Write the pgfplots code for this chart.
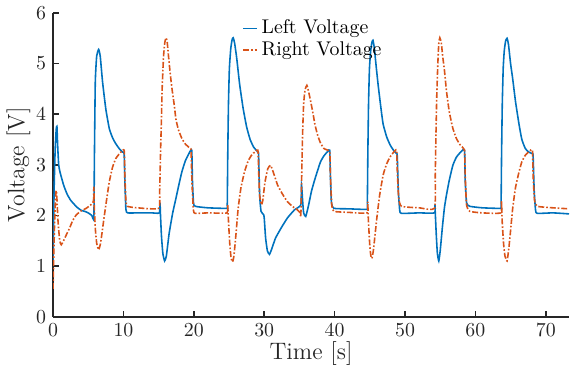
\documentclass[border=0pt]{standalone}
\usepackage{pgfplots}
\pgfplotsset{compat=1.18}
\definecolor{mblue}{rgb}{0,0.447,0.741}
\definecolor{mred}{rgb}{0.85,0.325,0.098}
\definecolor{axgray}{rgb}{0.15,0.15,0.15}
\begin{document}
\begin{tikzpicture}
\begin{axis}[
  scale only axis,
  width=260pt, height=153pt,
  xmin=0, xmax=73.3, ymin=0, ymax=6,
  axis x line=bottom, axis y line=left,
  axis line style={-, line width=1pt, color=axgray},
  tick style={line width=0.8pt, color=axgray},
  tick align=inside,
  major tick length=3pt,
  xtick={0,10,...,70}, ytick={0,1,...,6},
  ticklabel style={font=\fontsize{10}{11}\selectfont, color=axgray},
  xlabel={Time [s]}, ylabel={Voltage [V]},
  label style={font=\fontsize{12}{13}\selectfont, color=axgray},
  xlabel style={yshift=4pt},
  ylabel style={yshift=-4pt},
  legend style={at={(0.362,0.998)}, anchor=north west, draw=none, fill=none,
    font=\fontsize{10}{11}\selectfont, row sep=-1.5pt, inner sep=1pt},
  legend cell align=left,
  legend image code/.code={\draw[#1] (0pt,0pt) -- (7pt,0pt);},
]
\addplot[mblue, line width=0.8pt, smooth, tension=0.3] coordinates {
(0,1.0) (0.15,2.5) (0.3,3.3) (0.45,3.7) (0.55,3.76) (0.65,3.4) (0.8,3.0) (1.0,2.85) (1.5,2.6) (2.0,2.42) (2.5,2.3) (3.0,2.22) (3.5,2.15) (4.0,2.1) (4.5,2.08) (5.0,2.05) (5.5,2.0) (5.8,1.95)
(5.87,3.06) (6.0,4.63) (6.2,5.15) (6.48,5.28) (6.7,5.15) (7.04,4.63) (7.5,4.1) (8.0,3.71) (8.5,3.52) (8.9,3.42) (9.4,3.32) (9.9,3.25) (10.1,3.22)
(10.2,2.7) (10.35,2.12) (10.6,2.05) (12,2.05) (14,2.05) (15.1,2.05) (15.2,2.25) (15.25,2.05) (15.4,1.6) (15.6,1.25) (15.85,1.1) (16.1,1.2) (16.5,1.65) (17.0,2.05) (17.4,2.3) (17.9,2.62) (18.3,2.86) (18.8,3.08) (19.3,3.22) (19.7,3.29)
(19.8,2.7) (19.95,2.25) (20.2,2.18) (22,2.15) (24.7,2.14) (24.75,2.2) (24.82,3.2) (24.92,4.2) (25.05,4.9) (25.25,5.3) (25.45,5.48) (25.6,5.51) (25.8,5.4) (26.1,5.1) (26.5,4.6) (27.0,4.12) (27.5,3.75) (28.0,3.5) (28.5,3.35) (29.1,3.25) (29.2,3.2)
(29.35,2.4) (29.55,2.08) (29.9,2.02) (30.0,1.95) (30.2,1.55) (30.45,1.3) (30.75,1.23) (31.1,1.35) (31.6,1.55) (32.4,1.75) (33.3,1.95) (34.3,2.11) (35.2,2.21) (35.3,2.6) (35.45,2.3) (35.6,2.05) (35.9,1.98) (36.3,2.2) (36.7,2.47) (37.1,2.67) (37.5,2.85) (38.0,3.06) (38.5,3.18) (39.0,3.26) (39.3,3.29)
(39.4,2.8) (39.55,2.25) (39.9,2.14) (42,2.13) (44.6,2.12) (44.65,2.2) (44.72,3.2) (44.82,4.2) (44.95,4.9) (45.12,5.25) (45.3,5.42) (45.45,5.46) (45.65,5.3) (45.9,4.95) (46.2,4.56) (46.6,4.1) (46.9,3.8) (47.4,3.55) (47.9,3.39) (48.4,3.28) (48.8,3.22) (48.9,3.18)
(49.05,2.5) (49.25,2.1) (49.5,2.04) (52,2.05) (54.2,2.05) (54.25,2.22) (54.3,2.05) (54.45,1.6) (54.6,1.25) (54.8,1.1) (55.0,1.3) (55.3,1.75) (55.6,2.15) (55.9,2.41) (56.3,2.7) (56.8,2.99) (57.3,3.15) (57.9,3.25) (58.45,3.29)
(58.55,2.7) (58.75,2.25) (59.2,2.18) (61,2.15) (63.6,2.14) (63.65,2.2) (63.72,3.2) (63.82,4.2) (63.95,4.9) (64.1,5.25) (64.3,5.45) (64.5,5.5) (64.7,5.38) (65.0,5.0) (65.3,4.7) (65.7,4.25) (66.2,3.8) (66.6,3.5) (67.1,3.32) (67.6,3.25) (68.1,3.22) (68.2,3.18)
(68.35,2.5) (68.55,2.1) (68.8,2.04) (71,2.05) (73.3,2.03)
};
\addlegendentry{Left Voltage}
\addplot[mred, line width=0.8pt, smooth, tension=0.3, dash pattern=on 3pt off 1pt on 0.8pt off 1pt] coordinates {
(0,0.55) (0.1,1.2) (0.25,2.0) (0.4,2.45) (0.5,2.47) (0.7,1.9) (0.95,1.5) (1.17,1.42) (1.5,1.5) (2.0,1.65) (2.35,1.75) (2.8,1.9) (3.3,2.01) (4.0,2.09) (4.7,2.14) (5.2,2.19) (5.6,2.24) (5.75,2.3) (5.8,2.57)
(5.85,2.2) (6.0,1.75) (6.2,1.45) (6.48,1.32) (6.75,1.45) (7.0,1.7) (7.3,2.01) (7.65,2.35) (8.0,2.67) (8.45,2.95) (8.9,3.12) (9.5,3.23) (10.1,3.29)
(10.2,2.8) (10.35,2.3) (10.56,2.18) (12,2.15) (15.0,2.14) (15.15,2.5) (15.28,3.3) (15.4,3.9) (15.5,4.5) (15.7,5.15) (15.88,5.42) (16.06,5.51) (16.22,5.42) (16.4,5.15) (16.65,4.8) (16.9,4.5) (17.2,4.2) (17.46,3.9) (17.8,3.7) (18.3,3.52) (18.8,3.41) (19.5,3.32) (19.6,3.28)
(19.75,2.6) (19.95,2.1) (20.2,2.04) (22,2.05) (24.7,2.05) (24.8,2.22) (24.9,1.95) (25.1,1.45) (25.3,1.15) (25.5,1.08) (25.7,1.2) (26.0,1.65) (26.3,2.14) (26.7,2.55) (27.2,2.86) (27.7,3.07) (28.2,3.19) (28.7,3.26) (29.1,3.29)
(29.2,2.9) (29.35,2.4) (29.6,2.21) (29.8,2.3) (30.1,2.65) (30.5,2.92) (30.9,2.99) (31.3,2.85) (31.9,2.6) (32.6,2.42) (33.3,2.27) (34.0,2.18) (34.7,2.11) (35.1,2.05) (35.2,1.98)
(35.3,2.6) (35.45,3.6) (35.6,4.2) (35.8,4.48) (36.06,4.57) (36.3,4.45) (36.6,4.25) (36.9,4.04) (37.2,3.8) (37.6,3.58) (38.0,3.43) (38.5,3.32) (39.3,3.25)
(39.4,2.8) (39.6,2.2) (39.9,2.08) (42,2.06) (44.6,2.05) (44.7,2.27) (44.8,1.9) (45.0,1.4) (45.15,1.2) (45.3,1.15) (45.5,1.3) (45.75,1.62) (46.0,1.95) (46.4,2.4) (46.9,2.8) (47.4,3.02) (47.9,3.16) (48.4,3.25) (48.8,3.29)
(48.9,2.9) (49.1,2.35) (49.5,2.18) (52,2.15) (54.2,2.14) (54.3,2.8) (54.4,3.6) (54.5,4.3) (54.65,4.95) (54.8,5.4) (54.95,5.51) (55.15,5.42) (55.35,5.15) (55.6,4.87) (55.9,4.45) (56.3,4.04) (56.8,3.72) (57.3,3.52) (57.9,3.38) (58.45,3.29)
(58.55,2.8) (58.75,2.2) (59.2,2.08) (61,2.05) (63.6,2.05) (63.7,2.28) (63.8,1.9) (64.0,1.45) (64.2,1.2) (64.5,1.1) (64.75,1.35) (65.0,1.7) (65.3,2.14) (65.7,2.55) (66.2,2.86) (66.6,3.06) (67.1,3.19) (67.6,3.26) (68.1,3.29)
(68.2,2.8) (68.4,2.3) (68.8,2.18) (71,2.15) (73.3,2.13)
};
\addlegendentry{Right Voltage}
\end{axis}
\end{tikzpicture}
\end{document}
